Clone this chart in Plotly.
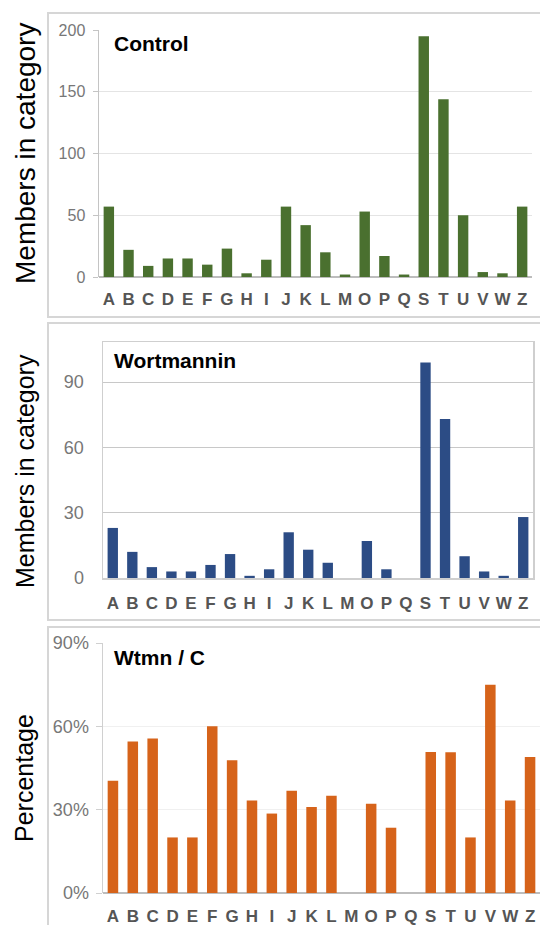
import plotly.graph_objects as go

categories = ["A", "B", "C", "D", "E", "F", "G", "H", "I", "J", "K", "L",
              "M", "O", "P", "Q", "S", "T", "U", "V", "W", "Z"]
control = [57, 22, 9, 15, 15, 10, 23, 3, 14, 57, 42, 20, 2, 53, 17, 2, 195, 144, 50, 4, 3, 57]
wortmannin = [23, 12, 5, 3, 3, 6, 11, 1, 4, 21, 13, 7, 0, 17, 4, 0, 99, 73, 10, 3, 1, 28]
ratio = [0.404, 0.545, 0.556, 0.20, 0.20, 0.60, 0.478, 0.333, 0.286, 0.368, 0.31, 0.35,
         0.0, 0.321, 0.235, 0.0, 0.508, 0.507, 0.20, 0.75, 0.333, 0.49]

panel_titles = ["Control", "Wortmannin", "Wtmn / C"]
y_titles = ["Members in category", "Members in category", "Percentage"]

W, H = 540, 925
FONT = "Liberation Sans, Arial, Helvetica, sans-serif"


def xd(a, b):
    return [a / W, min(b / W, 1.0)]


def yd(top, bottom):
    return [1 - bottom / H, 1 - top / H]


fig = go.Figure()
fig.add_trace(go.Bar(x=categories, y=control, marker=dict(color="#4a702f", line=dict(width=0)),
                     xaxis="x", yaxis="y", showlegend=False))
fig.add_trace(go.Bar(x=categories, y=wortmannin, marker=dict(color="#2c4c85", line=dict(width=0)),
                     xaxis="x2", yaxis="y2", showlegend=False))
fig.add_trace(go.Bar(x=categories, y=ratio, marker=dict(color="#d6631a", line=dict(width=0)),
                     xaxis="x3", yaxis="y3", showlegend=False))

xtick_font = dict(family=FONT, size=17, color="#555555", weight="bold")
xcommon = dict(type="category", showgrid=False, ticks="", tickfont=xtick_font,
               tickmode="array", tickvals=categories, ticktext=categories,
               fixedrange=True, automargin=False)

fig.update_layout(
    width=W, height=H,
    margin=dict(l=0, r=0, t=0, b=0, pad=0, autoexpand=False),
    paper_bgcolor="white", plot_bgcolor="white",
    bargap=0.47,
    font=dict(family=FONT),
    # ---- top panel
    xaxis=dict(domain=xd(99, 532), anchor="y", showline=False, ticklabelstandoff=10, **xcommon),
    yaxis=dict(domain=yd(30, 277), anchor="x", range=[0, 200], tickvals=[0, 50, 100, 150, 200],
               showgrid=True, gridcolor="#e4e4e4", gridwidth=1,
               zeroline=True, zerolinecolor="#bdbdbd", zerolinewidth=1.5,
               showline=True, linecolor="#c4c4c4", linewidth=1.5,
               ticks="outside", ticklen=5, tickcolor="#c4c4c4",
               tickfont=dict(family=FONT, size=16, color="#777777"), ticklabelstandoff=4,
               fixedrange=True, automargin=False),
    # ---- middle panel
    xaxis2=dict(domain=xd(103, 533), anchor="y2", showline=True, mirror=True,
                linecolor="#cfcfcf", linewidth=1.5, ticklabelstandoff=9, **xcommon),
    yaxis2=dict(domain=yd(342, 578), anchor="x2", range=[0, 108.4], tickvals=[0, 30, 60, 90],
                showgrid=True, gridcolor="#c8c8c8", gridwidth=1,
                zeroline=False, showline=True, mirror=True, linecolor="#cfcfcf", linewidth=1.5,
                ticks="", tickfont=dict(family=FONT, size=18, color="#777777"),
                ticklabelstandoff=14, fixedrange=True, automargin=False),
    # ---- bottom panel
    xaxis3=dict(domain=xd(103, 541), anchor="y3", showline=False, ticklabelstandoff=11, **xcommon),
    yaxis3=dict(domain=yd(643, 893), anchor="x3", range=[0, 0.9], tickvals=[0, 0.3, 0.6, 0.9],
                tickformat=".0%",
                showgrid=True, gridcolor="#f0f0f0", gridwidth=1,
                zeroline=True, zerolinecolor="#bdbdbd", zerolinewidth=1.5,
                showline=True, linecolor="#d0d0d0", linewidth=1.5,
                ticks="outside", ticklen=6, tickcolor="#d0d0d0",
                tickfont=dict(family=FONT, size=18, color="#777777"), ticklabelstandoff=3,
                fixedrange=True, automargin=False),
)

# panel frames
frame_color = "#d6d6d6"
for top, bottom in [(13, 317), (323, 620), (627, 940)]:
    fig.add_shape(type="rect", xref="paper", yref="paper",
                  x0=48 / W, x1=1.02, y0=1 - bottom / H, y1=1 - top / H,
                  line=dict(color=frame_color, width=2), fillcolor="rgba(0,0,0,0)", layer="below")

# panel titles
for title, cy in zip(panel_titles, [44, 360, 657]):
    fig.add_annotation(text="<b>" + title + "</b>", xref="paper", yref="paper",
                       x=112 / W, y=1 - cy / H, xanchor="left", yanchor="middle",
                       showarrow=False, font=dict(family=FONT, size=21, color="black"))

# y-axis titles
for title, cx, cy, size in zip(y_titles, [26, 25, 24], [154, 471, 778], [28, 25, 25]):
    fig.add_annotation(text=title, xref="paper", yref="paper",
                       x=cx / W, y=1 - cy / H, xanchor="center", yanchor="middle",
                       textangle=-90, showarrow=False,
                       font=dict(family=FONT, size=size, color="black"))

fig.write_html(
    "out.html",
    config={"displayModeBar": False, "staticPlot": True},
    post_script="document.documentElement.style.margin='0';"
                "document.body.style.margin='0';document.body.style.padding='0';"
                "document.body.style.overflow='hidden';"
                "document.documentElement.style.overflow='hidden';"
                "var gd=document.getElementById('{plot_id}');"
                "gd.style.position='fixed';gd.style.top='0px';gd.style.left='0px';",
)
